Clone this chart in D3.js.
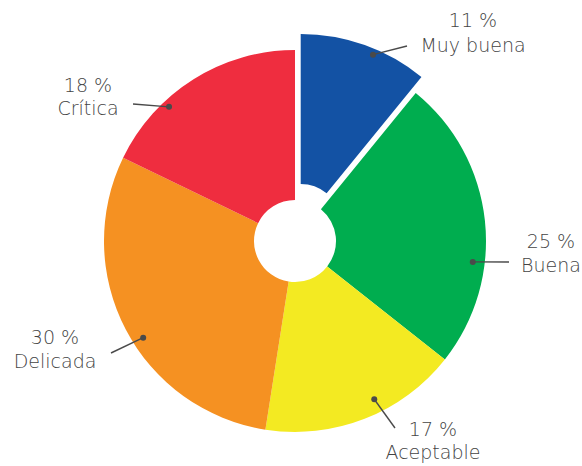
<!DOCTYPE html>
<html>
<head>
<meta charset="utf-8">
<script src="https://cdn.jsdelivr.net/npm/d3@7"></script>
<style>
  html, body { margin: 0; padding: 0; background: #fff; }
  .d3 { width: 582px; height: 466px; }
  text { font-family: "Century Gothic", "URW Gothic", "DejaVu Sans", sans-serif; font-weight: 200; fill: #444; font-size: 19px; }
</style>
</head>
<body>
<div class="d3"></div>
<script>
const categories = ["Muy buena", "Buena", "Aceptable", "Delicada", "Crítica"];
const percents = [11, 25, 17, 30, 18];
const colors = ["#1352a4", "#00ad4f", "#f3ea22", "#f59122", "#ef2d3f"];
const exploded = ["Muy buena"];

function main() {
    const width = 582;
    const height = 466;
    const cx = 295, cy = 241;
    const outerR = 191, innerR = 41;
    const explode = 17;

    // callout placement, relative to the pie centre (angle in degrees from 12 o'clock)
    const callout = {
        "Muy buena": { angle: 23, r: 185, end: [112, -195], tx: 178, ty: [-214, -189] },
        "Buena":     { angle: 96.7, r: 179, end: [214, 21], tx: 256, ty: [7, 31] },
        "Aceptable": { angle: 153.4, r: 177, end: [100, 187], tx: 138, ty: [195, 218] },
        "Delicada":  { angle: 237.5, r: 180, end: [-184, 112], tx: -240, ty: [103, 127] },
        "Crítica":   { angle: 316.8, r: 184, end: [-162, -137], tx: -207, ty: [-149, -126] }
    };

    const svg = d3.select(".d3")
        .append("svg")
        .attr("width", width)
        .attr("height", height);

    const g = svg.append("g")
        .attr("transform", "translate(" + cx + "," + cy + ")");

    const data = categories.map(function (c, i) { return { name: c, value: percents[i], color: colors[i] }; });

    const pie = d3.pie().sort(null).value(function (d) { return d.value; });
    const arc = d3.arc().innerRadius(innerR).outerRadius(outerR);
    const arcs = pie(data);

    function offset(d) {
        if (exploded.indexOf(d.data.name) < 0) return [0, 0];
        const a = (d.startAngle + d.endAngle) / 2;
        return [explode * Math.sin(a), -explode * Math.cos(a)];
    }

    g.selectAll("path.slice")
        .data(arcs)
        .enter()
        .append("path")
        .attr("class", "slice")
        .attr("fill", function (d) { return d.data.color; })
        .attr("transform", function (d) { const o = offset(d); return "translate(" + o[0] + "," + o[1] + ")"; })
        .attr("d", arc);

    const labels = g.selectAll("g.callout")
        .data(arcs)
        .enter()
        .append("g")
        .attr("class", "callout");

    function dotPos(d) {
        const c = callout[d.data.name];
        const a = c.angle * Math.PI / 180;
        const o = offset(d);
        return [o[0] + c.r * Math.sin(a), o[1] - c.r * Math.cos(a)];
    }

    labels.append("line")
        .attr("x1", function (d) { return dotPos(d)[0]; })
        .attr("y1", function (d) { return dotPos(d)[1]; })
        .attr("x2", function (d) { return callout[d.data.name].end[0]; })
        .attr("y2", function (d) { return callout[d.data.name].end[1]; })
        .attr("stroke", "#4a4a4a")
        .attr("stroke-width", 1.4);

    labels.append("circle")
        .attr("cx", function (d) { return dotPos(d)[0]; })
        .attr("cy", function (d) { return dotPos(d)[1]; })
        .attr("r", 3)
        .attr("fill", "#4a4a4a");

    labels.append("text")
        .attr("text-anchor", "middle")
        .attr("x", function (d) { return callout[d.data.name].tx; })
        .attr("y", function (d) { return callout[d.data.name].ty[0]; })
        .text(function (d) { return d.data.value + " %"; });

    labels.append("text")
        .attr("text-anchor", "middle")
        .attr("x", function (d) { return callout[d.data.name].tx; })
        .attr("y", function (d) { return callout[d.data.name].ty[1]; })
        .text(function (d) { return d.data.name; });
}
main();
</script>
</body>
</html>
